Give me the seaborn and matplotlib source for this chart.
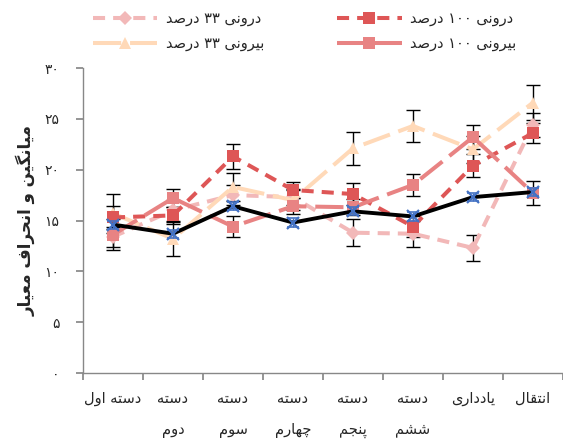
import matplotlib
matplotlib.use("Agg")
import matplotlib.pyplot as plt
import seaborn as sns
import numpy as np

# ---------------- data ----------------
categories = ["دسته اول", "دسته\nدوم", "دسته\nسوم", "دسته\nچهارم",
              "دسته\nپنجم", "دسته\nششم", "یادداری", "انتقال"]
ytick_labels = ["۰", "۵", "۱۰", "۱۵", "۲۰", "۲۵", "۳۰"]
ytick_values = [0, 5, 10, 15, 20, 25, 30]
y_label = "میانگین و انحراف معیار"

name_in33 = "درونی ۳۳ درصد"
name_in100 = "درونی ۱۰۰ درصد"
name_out33 = "بیرونی ۳۳ درصد"
name_out100 = "بیرونی ۱۰۰ درصد"

in100 = [15.3, 15.5, 21.3, 18.0, 17.6, 14.4, 20.4, 23.6]
out100 = [13.6, 17.2, 14.4, 16.4, 16.3, 18.5, 23.2, 17.7]
in33 = [13.4, 16.0, 17.5, 17.3, 13.8, 13.7, 12.3, 24.4]
out33 = [15.7, 13.2, 18.3, 17.0, 22.1, 24.3, 22.0, 26.6]
control = [14.6, 13.7, 16.4, 14.8, 15.9, 15.4, 17.3, 17.8]

sd_in100 = [1.1, 0.8, 1.2, 0.8, 1.1, 1.0, 1.1, 1.0]
sd_out100 = [1.5, 0.9, 1.0, 0.8, 0.8, 1.1, 1.2, 1.2]
sd_in33 = [1.0, 1.0, 1.0, 0.8, 1.3, 1.3, 1.3, 1.2]
sd_out33 = [1.9, 1.7, 1.4, 1.0, 1.6, 1.6, 1.3, 1.7]
sd_control = [0.4, 0.4, 0.4, 0.4, 0.4, 0.4, 0.4, 0.4]

# ------------- simple Persian shaping (matplotlib has no complex text layout) -------------
FORMS = {
    '\u0627': ('\uFE8D', '\uFE8E', None, None),
    '\u0622': ('\uFE81', '\uFE82', None, None),
    '\u0628': ('\uFE8F', '\uFE90', '\uFE91', '\uFE92'),
    '\u067E': ('\uFB56', '\uFB57', '\uFB58', '\uFB59'),
    '\u062A': ('\uFE95', '\uFE96', '\uFE97', '\uFE98'),
    '\u062B': ('\uFE99', '\uFE9A', '\uFE9B', '\uFE9C'),
    '\u062C': ('\uFE9D', '\uFE9E', '\uFE9F', '\uFEA0'),
    '\u0686': ('\uFB7A', '\uFB7B', '\uFB7C', '\uFB7D'),
    '\u062D': ('\uFEA1', '\uFEA2', '\uFEA3', '\uFEA4'),
    '\u062E': ('\uFEA5', '\uFEA6', '\uFEA7', '\uFEA8'),
    '\u062F': ('\uFEA9', '\uFEAA', None, None),
    '\u0630': ('\uFEAB', '\uFEAC', None, None),
    '\u0631': ('\uFEAD', '\uFEAE', None, None),
    '\u0632': ('\uFEAF', '\uFEB0', None, None),
    '\u0698': ('\uFB8A', '\uFB8B', None, None),
    '\u0633': ('\uFEB1', '\uFEB2', '\uFEB3', '\uFEB4'),
    '\u0634': ('\uFEB5', '\uFEB6', '\uFEB7', '\uFEB8'),
    '\u0635': ('\uFEB9', '\uFEBA', '\uFEBB', '\uFEBC'),
    '\u0636': ('\uFEBD', '\uFEBE', '\uFEBF', '\uFEC0'),
    '\u0637': ('\uFEC1', '\uFEC2', '\uFEC3', '\uFEC4'),
    '\u0638': ('\uFEC5', '\uFEC6', '\uFEC7', '\uFEC8'),
    '\u0639': ('\uFEC9', '\uFECA', '\uFECB', '\uFECC'),
    '\u063A': ('\uFECD', '\uFECE', '\uFECF', '\uFED0'),
    '\u0641': ('\uFED1', '\uFED2', '\uFED3', '\uFED4'),
    '\u0642': ('\uFED5', '\uFED6', '\uFED7', '\uFED8'),
    '\u06A9': ('\uFB8E', '\uFB8F', '\uFB90', '\uFB91'),
    '\u06AF': ('\uFB92', '\uFB93', '\uFB94', '\uFB95'),
    '\u0644': ('\uFEDD', '\uFEDE', '\uFEDF', '\uFEE0'),
    '\u0645': ('\uFEE1', '\uFEE2', '\uFEE3', '\uFEE4'),
    '\u0646': ('\uFEE5', '\uFEE6', '\uFEE7', '\uFEE8'),
    '\u0648': ('\uFEED', '\uFEEE', None, None),
    '\u0647': ('\uFEE9', '\uFEEA', '\uFEEB', '\uFEEC'),
    '\u06CC': ('\uFBFC', '\uFBFD', '\uFBFE', '\uFBFF'),
}


def _dual(c):
    return c in FORMS and FORMS[c][2] is not None


def _shape_line(s):
    out = []
    n = len(s)
    for i, c in enumerate(s):
        if c not in FORMS:
            out.append(c)
            continue
        prev_c = s[i - 1] if i > 0 else ''
        next_c = s[i + 1] if i < n - 1 else ''
        pc = _dual(prev_c)
        nc = _dual(c) and next_c in FORMS
        iso, fin, ini, med = FORMS[c]
        if pc and nc:
            out.append(med)
        elif pc:
            out.append(fin)
        elif nc:
            out.append(ini)
        else:
            out.append(iso)
    shaped = ''.join(out)
    # visual order: reverse, keeping digit runs left-to-right
    tokens = []
    cur = ''
    cur_digit = None
    for ch in shaped:
        d = ch.isdigit()
        if cur_digit is None or d == cur_digit:
            cur += ch
        else:
            tokens.append((cur, cur_digit))
            cur = ch
        cur_digit = d
    if cur:
        tokens.append((cur, cur_digit))
    vis = ''
    for t, d in reversed(tokens):
        vis += t if d else t[::-1]
    return vis


def fa(s):
    return '\n'.join(_shape_line(line) for line in s.split('\n'))


# ---------------- plot ----------------
sns.set_theme(style="white")
plt.rcParams['font.family'] = ['DejaVu Sans']

fig = plt.figure(figsize=(5.63, 4.43), dpi=100)
ax = fig.add_axes([83 / 563, 1 - 373 / 443, 1 - 83 / 563, (373 - 68) / 443])

x = np.arange(len(categories))

series = [
    (in33, sd_in33, name_in33, '#F2B8B8', 'D', (0, (3, 2)), 7),
    (out33, sd_out33, name_out33, '#FFD9B8', '^', (0, (7, 2.2)), 9),
    (in100, sd_in100, name_in100, '#DE5656', 's', (0, (3, 2)), 9),
    (out100, sd_out100, name_out100, '#E88383', 's', (0, (7, 2.2)), 9),
]

for vals, sds, name, col, mk, ls, ms in series:
    ax.errorbar(x, vals, yerr=sds, fmt='none', ecolor='black',
                elinewidth=1.0, capsize=5, capthick=1.0, zorder=2)
    sns.lineplot(x=x, y=vals, ax=ax, color=col, marker=mk, markersize=ms,
                 markeredgewidth=0, linewidth=2.9, linestyle=ls,
                 label=fa(name), zorder=3)

ax.errorbar(x, control, yerr=sd_control, fmt='none', ecolor='#4472C4',
            elinewidth=1.0, capsize=4, capthick=1.2, zorder=6)
sns.lineplot(x=x, y=control, ax=ax, color='black', linewidth=2.8,
             linestyle='-', legend=False, zorder=4)
ax.plot(x, control, linestyle='none', marker='x', color='#4472C4',
        markersize=8, markeredgewidth=1.6, zorder=7)

ax.set_xlim(-0.5, len(categories) - 0.5)
ax.set_ylim(0, 30)

ax.set_yticks(ytick_values)
ax.set_yticklabels([fa(t) for t in ytick_labels], fontsize=10)

ax.set_xticks(np.arange(-0.5, len(categories), 1.0))
ax.set_xticklabels([])
ax.set_xticks(x, minor=True)
ax.set_xticklabels([fa(c) for c in categories], minor=True, fontsize=10.5,
                   linespacing=2.3, va='top')
ax.tick_params(axis='x', which='minor', length=0, pad=13)
ax.tick_params(axis='x', which='major', length=5, color='#888888', direction='out', bottom=True)
ax.tick_params(axis='y', length=5, color='#888888', direction='out', left=True, pad=12)

for side in ['top', 'right']:
    ax.spines[side].set_visible(False)
for side in ['left', 'bottom']:
    ax.spines[side].set_color('#888888')
    ax.spines[side].set_linewidth(1.0)
ax.grid(False)

ax.set_ylabel(fa(y_label), fontsize=12, fontweight='bold', labelpad=6)

handles, labels = ax.get_legend_handles_labels()
if ax.get_legend():
    ax.get_legend().remove()
fig.legend(handles, labels, ncol=2, loc='upper left',
           bbox_to_anchor=(80 / 563, 1.005), frameon=False, fontsize=10.5,
           handlelength=4.4, columnspacing=5.0, labelspacing=0.65,
           handletextpad=0.6)

fig.savefig("out.png", dpi=100)
